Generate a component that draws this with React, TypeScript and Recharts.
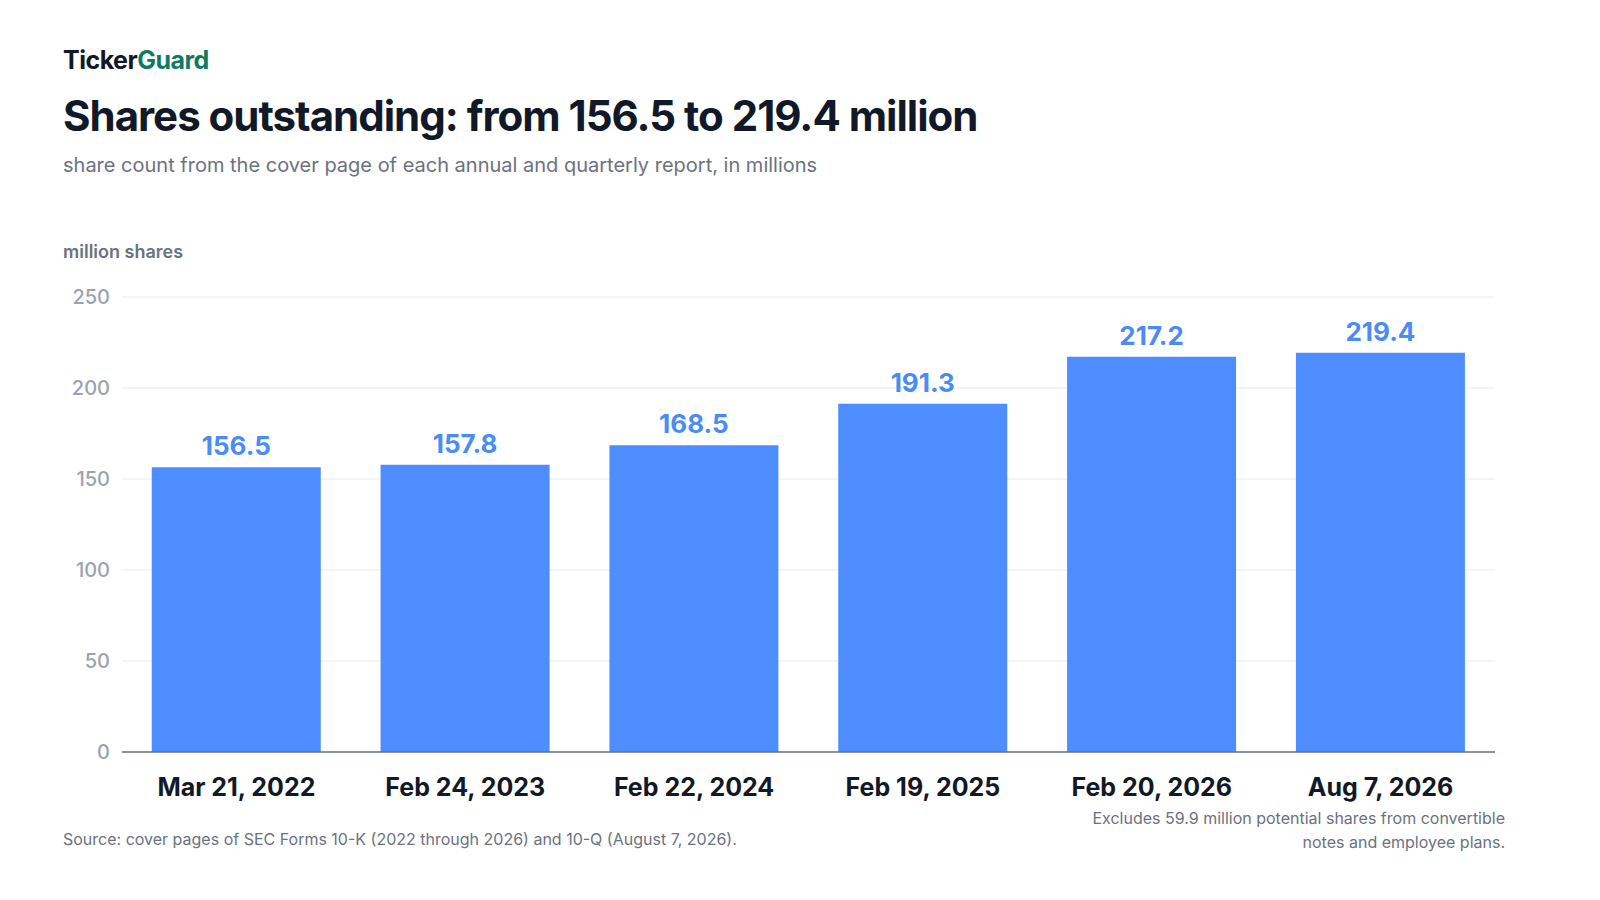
import React from 'react';
import { BarChart, Bar, XAxis, YAxis, CartesianGrid, LabelList } from 'recharts';

const dates = ['Mar 21, 2022', 'Feb 24, 2023', 'Feb 22, 2024', 'Feb 19, 2025', 'Feb 20, 2026', 'Aug 7, 2026'];
const shares = [156.5, 157.8, 168.5, 191.3, 217.2, 219.4];
const yTicks = [0, 50, 100, 150, 200, 250];

const data = dates.map((d, i) => ({ date: d, shares: shares[i] }));

const font = 'Inter, "Noto Sans", sans-serif';

export default function App() {
  return (
    <div style={{ position: 'absolute', left: 0, top: 0, width: 1600, height: 900, background: '#fff', fontFamily: font }}>
      <div style={{ position: 'absolute', left: 63, top: 45, fontSize: 25, fontWeight: 700, color: '#111827', letterSpacing: -0.5 }}>
        Ticker<span style={{ color: '#0f7a5f' }}>Guard</span>
      </div>
      <div style={{ position: 'absolute', left: 63, top: 90, fontSize: 42, fontWeight: 700, color: '#111827', letterSpacing: -1 }}>
        Shares outstanding: from 156.5 to 219.4 million
      </div>
      <div style={{ position: 'absolute', left: 63, top: 153, fontSize: 20, color: '#6b7280' }}>
        share count from the cover page of each annual and quarterly report, in millions
      </div>
      <div style={{ position: 'absolute', left: 63, top: 241, fontSize: 18, fontWeight: 600, color: '#6b7280' }}>
        million shares
      </div>
      <BarChart width={1600} height={900} data={data} margin={{ top: 297, right: 105, bottom: 118, left: 62 }} barCategoryGap="13%">
        <CartesianGrid vertical={false} stroke="#e8eaee" />
        <XAxis dataKey="date" height={30} axisLine={{ stroke: '#6b7280', strokeWidth: 1.5 }} tickLine={false}
          tick={{ fontSize: 25, fontWeight: 700, fill: '#111827', fontFamily: font }} dy={18} />
        <YAxis ticks={yTicks} domain={[0, 250]} width={60} axisLine={false} tickLine={false}
          tick={{ fontSize: 20, fontWeight: 500, fill: '#9ca3af', fontFamily: font }} dx={-4} />
        <Bar dataKey="shares" fill="#4d8dff" isAnimationActive={false}>
          <LabelList dataKey="shares" position="top" offset={12} formatter={(v: number) => v.toFixed(1)}
            style={{ fontSize: 26, fontWeight: 700, fill: '#4b8bf5', fontFamily: font }} />
        </Bar>
      </BarChart>
      <div style={{ position: 'absolute', left: 63, top: 829, fontSize: 16, color: '#6b7280' }}>
        Source: cover pages of SEC Forms 10-K (2022 through 2026) and 10-Q (August 7, 2026).
      </div>
      <div style={{ position: 'absolute', right: 95, top: 806, fontSize: 16, color: '#6b7280', textAlign: 'right', lineHeight: '24px' }}>
        Excludes 59.9 million potential shares from convertible<br />notes and employee plans.
      </div>
    </div>
  );
}
